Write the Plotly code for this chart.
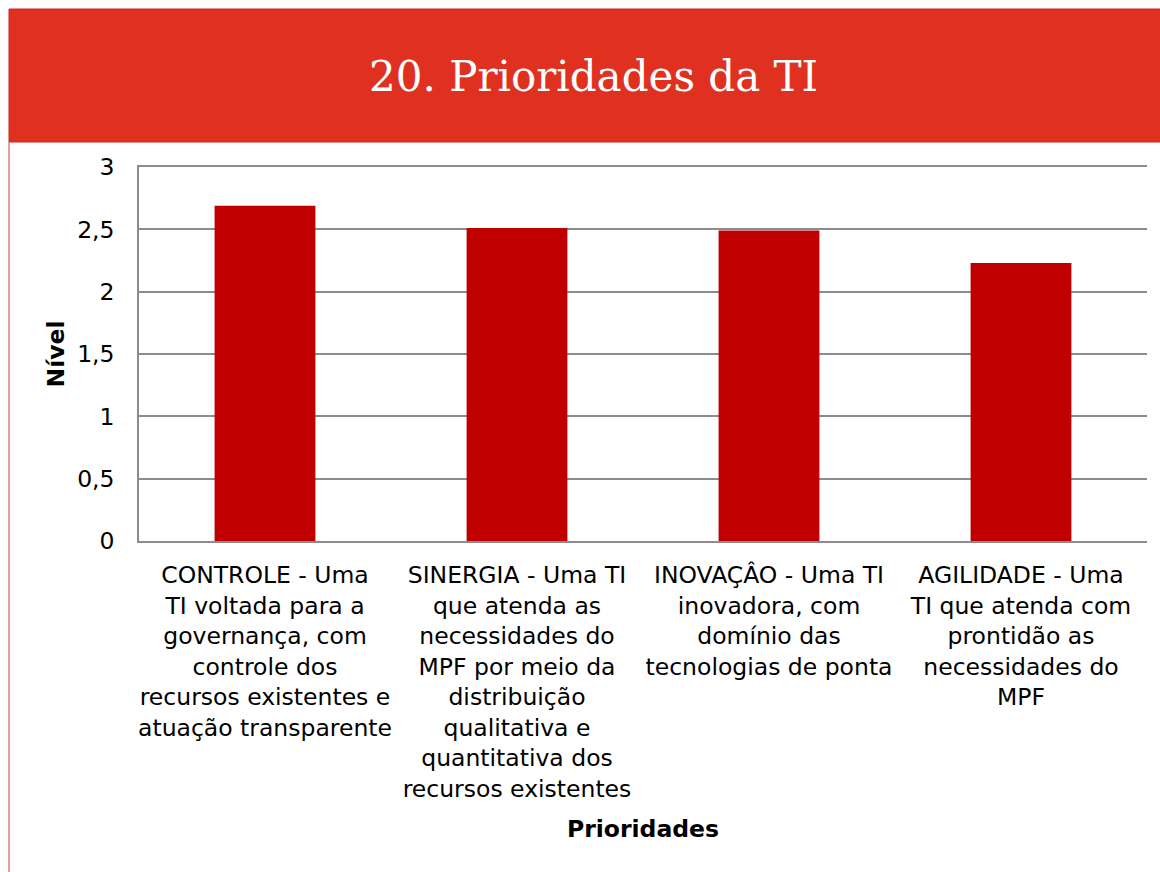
import plotly.graph_objects as go

categories = [
    "CONTROLE - Uma<br>TI voltada para a<br>governança, com<br>controle dos<br>recursos existentes e<br>atuação transparente",
    "SINERGIA - Uma TI<br>que atenda as<br>necessidades do<br>MPF por meio da<br>distribuição<br>qualitativa e<br>quantitativa dos<br>recursos existentes",
    "INOVAÇÂO - Uma TI<br>inovadora, com<br>domínio das<br>tecnologias de ponta",
    "AGILIDADE - Uma<br>TI que atenda com<br>prontidão as<br>necessidades do<br>MPF",
]
values = [2.69, 2.51, 2.49, 2.23]
tick_vals = [0, 0.5, 1, 1.5, 2, 2.5, 3]
tick_text = ["0", "0,5", "1", "1,5", "2", "2,5", "3"]

W, H = 1160, 872
L, R, T, B = 139, 13, 167, 331
pw, ph = W - L - R, H - T - B

def px(x):
    return (x - L) / pw

def py(y):
    return (H - B - y) / ph

SANS = "DejaVu Sans, Arial, sans-serif"
FS = 23.5
GRID = "#8C8C8C"

fig = go.Figure(go.Bar(
    x=categories, y=values,
    marker=dict(color="#C00000", line=dict(width=0)),
    width=0.4,
))

fig.update_layout(
    width=W, height=H,
    margin=dict(l=L, r=R, t=T, b=B),
    paper_bgcolor="white", plot_bgcolor="white",
    font=dict(family=SANS, size=FS, color="black"),
    showlegend=False,
    xaxis=dict(
        showgrid=False, showline=True, mirror=True,
        linecolor=GRID, linewidth=1.5, ticks="",
        tickfont=dict(size=FS),
        tickangle=0, ticklabelstandoff=12,
        title=dict(text="<b>Prioridades</b>", font=dict(size=FS), standoff=19),
    ),
    yaxis=dict(
        range=[0, 3], tickvals=tick_vals, ticktext=tick_text,
        showgrid=True, gridcolor=GRID, gridwidth=1.5,
        showline=True, linecolor=GRID, linewidth=1.5,
        zeroline=False, ticks="", ticklabelstandoff=18,
        tickfont=dict(size=FS),
        title=dict(text="<b>Nível</b>", font=dict(size=FS), standoff=6),
    ),
    shapes=[
        dict(type="rect", xref="paper", yref="paper",
             x0=px(9), x1=px(1161), y0=py(142), y1=py(9),
             fillcolor="#E03120", line=dict(color="#C8281A", width=1), layer="below"),
        dict(type="line", xref="paper", yref="paper",
             x0=px(9), x1=px(9), y0=py(142), y1=py(875),
             line=dict(color="#D98080", width=1.5)),
    ],
    annotations=[
        dict(text="20. Prioridades da TI", xref="paper", yref="paper",
             x=px(593), y=py(77), xanchor="center", yanchor="middle",
             showarrow=False,
             font=dict(family="DejaVu Serif, Georgia, serif", size=42, color="white")),
    ],
)

fig.write_html("out.html", config={"displayModeBar": False},
               post_script="document.body.style.margin='0';")
